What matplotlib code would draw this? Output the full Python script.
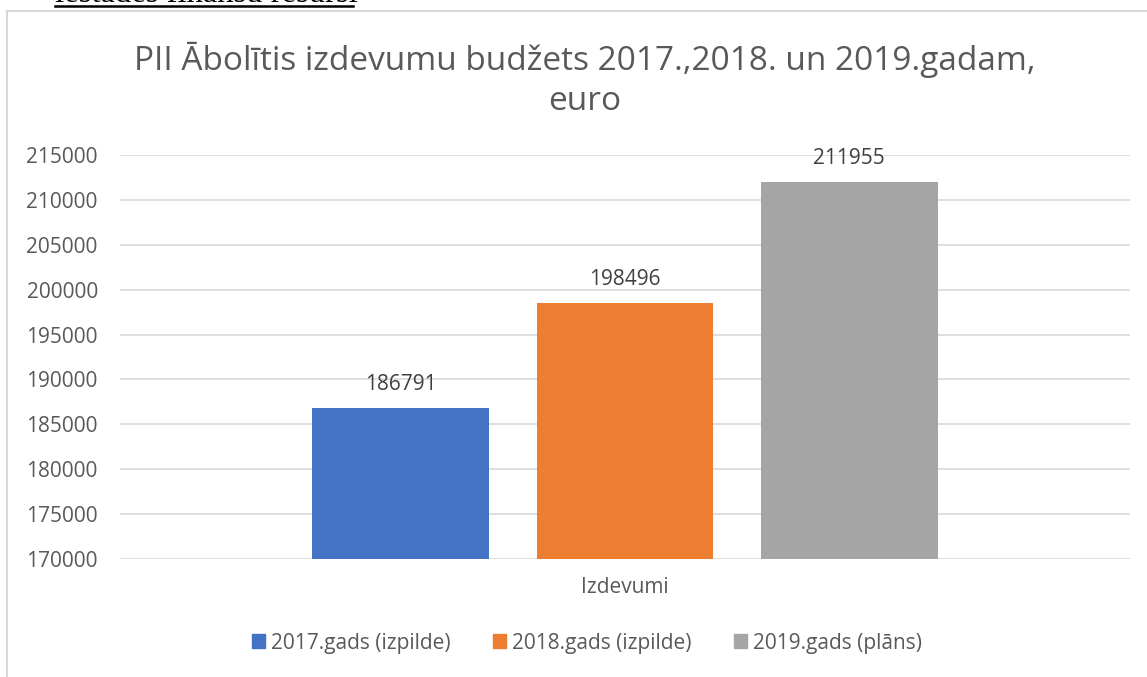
import matplotlib.pyplot as plt
import matplotlib.patches as mpatches

# data
series = ["2017.gads (izpilde)", "2018.gads (izpilde)", "2019.gads (plāns)"]
values = [186791, 198496, 211955]
category = "Izdevumi"
colors = ["#4472C4", "#ED7D31", "#A5A5A5"]
yticks = [170000, 175000, 180000, 185000, 190000, 195000, 200000, 205000, 210000, 215000]

plt.rcParams['font.family'] = ['Open Sans', 'DejaVu Sans']
txt = "#595959"

fig = plt.figure(figsize=(11.47, 6.77), dpi=100)
W, H = 1147, 677
ax = fig.add_axes([120 / W, 1 - 559 / H, 1010 / W, (559 - 155) / H])

width = 0.175
step = 0.222
for i, (name, v, c) in enumerate(zip(series, values, colors)):
    x = (i - 1) * step
    ax.bar(x, v, width=width, color=c, label=name, zorder=3)
    ax.text(x, v + 1500, str(v), ha="center", va="bottom", fontsize=15, color="#404040")

ax.set_xlim(-0.5, 0.5)
ax.set_ylim(170000, 215000)
ax.set_yticks(yticks)
ax.set_yticklabels([str(t) for t in yticks], fontsize=15, color=txt)
ax.tick_params(axis="y", length=0, pad=16)
ax.set_xticks([0])
ax.set_xticklabels([category], fontsize=15, color=txt)
ax.tick_params(axis="x", length=0, pad=13)
ax.grid(axis="y", color="#d9d9d9", linewidth=1.2, zorder=0)
for s in ax.spines.values():
    s.set_visible(False)

# title
fig.text(585 / W, 1 - 60 / H, "PII Ābolītis izdevumu budžets 2017.,2018. un 2019.gadam,",
         ha="center", va="center", fontsize=24, color=txt)
fig.text(585 / W, 1 - 101 / H, "euro", ha="center", va="center", fontsize=24, color=txt)

# legend
handles = [mpatches.Patch(color=c) for c in colors]
fig.legend(handles, series, loc="center", bbox_to_anchor=(587 / W, 1 - 643 / H), ncol=3,
           frameon=False, fontsize=15, labelcolor=txt, handlelength=0.65, handleheight=0.65,
           handletextpad=0.3, columnspacing=2.0)

# chart frame
fig.add_artist(plt.Line2D([7 / W, 7 / W], [0, 1 - 11 / H], color="#d9d9d9", linewidth=1.5))
fig.add_artist(plt.Line2D([7 / W, 1], [1 - 11 / H, 1 - 11 / H], color="#d9d9d9", linewidth=1.5))

# cut-off document text above the chart (only its lower part shows, as in the page)
fig.text(55 / W, 1 - 1.5 / H, "iestādes finanšu resursi", ha="left", va="baseline",
         fontsize=23.5, family="Liberation Serif", color="black")
fig.add_artist(plt.Line2D([55 / W, 353 / W], [1 - 5.5 / H, 1 - 5.5 / H], color="black", linewidth=1.8))

fig.savefig("out.png", dpi=100)
